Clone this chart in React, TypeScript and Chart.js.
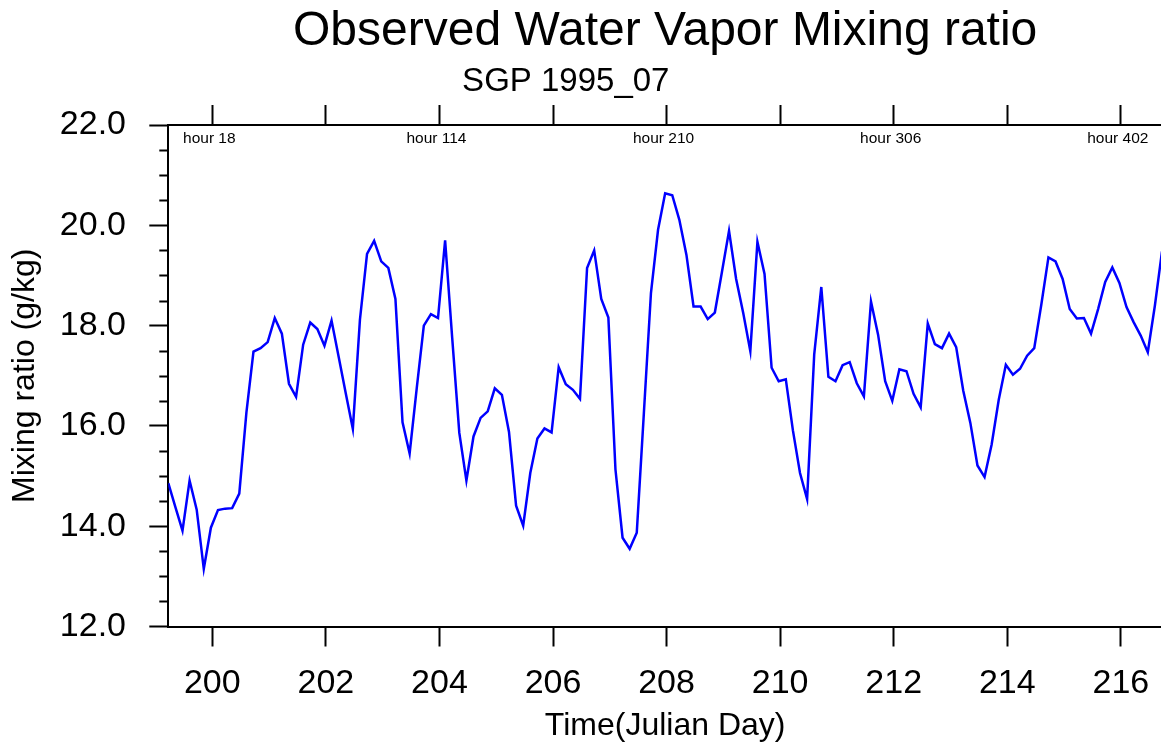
import React, { useEffect, useRef } from 'react';
import { Chart, registerables } from 'chart.js';

Chart.register(...registerables);

const FONT = '"Liberation Sans", Arial, Helvetica, sans-serif';

// Time axis: 3-hourly samples starting at Julian day below
const startDay = 199.225;
const stepDay = 0.125;

// Observed water vapor mixing ratio (g/kg), 3-hourly
const mixingRatio = [
  14.86, 14.38, 13.91, 14.91, 14.33, 13.15, 13.97, 14.32, 14.35, 14.36,
  14.65, 16.26, 17.48, 17.55, 17.67, 18.15, 17.84, 16.84, 16.58, 17.62,
  18.06, 17.93, 17.60, 18.10, 17.38, 16.65, 15.94, 18.12, 19.43, 19.69,
  19.28, 19.15, 18.53, 16.07, 15.45, 16.75, 18.00, 18.23, 18.15, 19.70,
  17.75, 15.86, 14.91, 15.79, 16.16, 16.29, 16.75, 16.62, 15.88, 14.41,
  14.01, 15.06, 15.75, 15.95, 15.87, 17.17, 16.83, 16.72, 16.54, 19.15,
  19.50, 18.53, 18.16, 15.13, 13.77, 13.55, 13.87, 16.25, 18.65, 19.91,
  20.64, 20.60, 20.11, 19.41, 18.38, 18.38, 18.13, 18.26, 19.07, 19.89,
  18.93, 18.25, 17.49, 19.67, 19.03, 17.16, 16.89, 16.93, 15.91, 15.06,
  14.54, 17.42, 18.77, 16.98, 16.89, 17.21, 17.27, 16.85, 16.59, 18.48,
  17.82, 16.89, 16.50, 17.13, 17.09, 16.64, 16.37, 18.04, 17.63, 17.55,
  17.84, 17.57, 16.70, 16.06, 15.21, 14.98, 15.63, 16.52, 17.22, 17.02,
  17.14, 17.40, 17.55, 18.42, 19.36, 19.28, 18.93, 18.33, 18.14, 18.15,
  17.84, 18.33, 18.87, 19.16, 18.85, 18.37, 18.07, 17.80, 17.47, 18.40,
  19.48,
];

const dayTicks = [200, 202, 204, 206, 208, 210, 212, 214, 216];
const yMin = 12;
const yMax = 22;
const yMinorStep = 0.5;
const yMajorStep = 2;

const hourLabelDays = [200, 204, 208, 212, 216];
const hourLabels = ['hour 18', 'hour 114', 'hour 210', 'hour 306', 'hour 402'];

const titleText = 'Observed Water Vapor Mixing ratio';
const subtitleText = 'SGP 1995_07';
const xTitleText = 'Time(Julian Day)';
const yTitleText = 'Mixing ratio (g/kg)';

const isMajor = (v: number) => Math.abs(v / yMajorStep - Math.round(v / yMajorStep)) < 1e-6;

const decorPlugin = {
  id: 'decor',
  afterDraw(chart: any) {
    const { ctx, chartArea, scales } = chart;
    const x = scales.x;
    const y = scales.y;
    ctx.save();
    ctx.strokeStyle = '#000';
    ctx.lineWidth = 2;
    // minor y ticks
    y.ticks.forEach((t: any) => {
      if (!isMajor(t.value)) {
        const py = Math.round(y.getPixelForValue(t.value)) + 0.5;
        ctx.beginPath();
        ctx.moveTo(chartArea.left - 9, py);
        ctx.lineTo(chartArea.left, py);
        ctx.stroke();
      }
    });
    // right frame
    ctx.beginPath();
    ctx.moveTo(chartArea.right, chartArea.top);
    ctx.lineTo(chartArea.right, chartArea.bottom);
    ctx.stroke();
    // hour labels inside the plot
    ctx.fillStyle = '#000';
    ctx.font = `15.5px ${FONT}`;
    ctx.textAlign = 'center';
    ctx.textBaseline = 'alphabetic';
    hourLabelDays.forEach((d, k) => {
      ctx.fillText(hourLabels[k], x.getPixelForValue(d) - 3, chartArea.top + 17.7);
    });
    // subtitle
    ctx.font = `33px ${FONT}`;
    ctx.textBaseline = 'middle';
    ctx.fillText(subtitleText, chartArea.left + 0.4 * (chartArea.right - chartArea.left), 82);
    ctx.restore();
  },
};

export default function App() {
  const canvasRef = useRef<HTMLCanvasElement | null>(null);

  useEffect(() => {
    if (!canvasRef.current) return;
    Chart.defaults.font.family = FONT;
    Chart.defaults.color = '#000';
    const xMax = startDay + stepDay * (mixingRatio.length - 1);
    const setDayTicks = (s: any) => {
      s.ticks = dayTicks.map((v) => ({ value: v }));
    };
    const gridOpts = {
      display: true,
      drawOnChartArea: false,
      drawTicks: true,
      tickLength: 20,
      tickWidth: 2,
      tickColor: '#000',
    };
    const chart = new Chart(canvasRef.current, {
      type: 'line',
      data: {
        datasets: [
          {
            data: mixingRatio.map((v, i) => ({ x: startDay + i * stepDay, y: v })),
            borderColor: '#0000ff',
            borderWidth: 2.5,
            pointRadius: 0,
            pointHoverRadius: 0,
            pointBorderWidth: 0,
            tension: 0,
            fill: false,
          },
        ],
      },
      options: {
        animation: false,
        responsive: false,
        devicePixelRatio: 1,
        layout: { padding: 0 },
        plugins: {
          legend: { display: false },
          tooltip: { enabled: false },
          title: {
            display: true,
            text: titleText,
            color: '#000',
            fullSize: false,
            font: { size: 48, family: FONT, weight: 'normal', lineHeight: 1 },
            padding: { top: 7.5, bottom: 49.5 },
          },
        },
        scales: {
          x: {
            type: 'linear',
            position: 'bottom',
            min: startDay,
            max: xMax,
            afterBuildTicks: setDayTicks,
            afterFit: (s: any) => {
              s.height = 122.5;
              s.paddingLeft = 0;
              s.paddingRight = 0;
            },
            grid: gridOpts,
            border: { display: true, color: '#000', width: 2 },
            ticks: {
              color: '#000',
              font: { size: 34, family: FONT },
              padding: 16.3,
              maxRotation: 0,
              autoSkip: false,
              callback: (v: any) => String(v),
            },
            title: {
              display: true,
              text: xTitleText,
              color: '#000',
              font: { size: 32, family: FONT },
              padding: { top: 0, bottom: 3.6 },
            },
          },
          x2: {
            type: 'linear',
            position: 'top',
            min: startDay,
            max: xMax,
            afterBuildTicks: setDayTicks,
            afterFit: (s: any) => {
              s.height = 20;
              s.paddingLeft = 0;
              s.paddingRight = 0;
            },
            grid: gridOpts,
            border: { display: true, color: '#000', width: 2 },
            ticks: { display: false },
          },
          y: {
            type: 'linear',
            position: 'left',
            min: yMin,
            max: yMax,
            afterFit: (s: any) => {
              s.width = 168.3;
              s.paddingTop = 0;
              s.paddingBottom = 0;
            },
            grid: {
              display: true,
              drawOnChartArea: false,
              drawTicks: true,
              tickLength: 19,
              tickWidth: 2,
              tickColor: (c: any) => (c.tick && isMajor(c.tick.value) ? '#000' : 'rgba(0,0,0,0)'),
            },
            border: { display: true, color: '#000', width: 2 },
            ticks: {
              stepSize: yMinorStep,
              autoSkip: false,
              color: '#000',
              font: { size: 34, family: FONT },
              padding: 23.3,
              callback: (v: any) => (isMajor(Number(v)) ? Number(v).toFixed(1) : ''),
            },
            title: {
              display: true,
              text: yTitleText,
              color: '#000',
              font: { size: 32, family: FONT },
              padding: { top: 6.4, bottom: 0 },
            },
          },
        },
      },
      plugins: [decorPlugin],
    } as any);
    return () => chart.destroy();
  }, []);

  return (
    <div
      style={{
        position: 'absolute',
        left: 0,
        top: 0,
        width: 1161,
        height: 749,
        overflow: 'hidden',
        background: '#fff',
      }}
    >
      <canvas ref={canvasRef} width={1162} height={749} style={{ display: 'block' }} />
    </div>
  );
}
